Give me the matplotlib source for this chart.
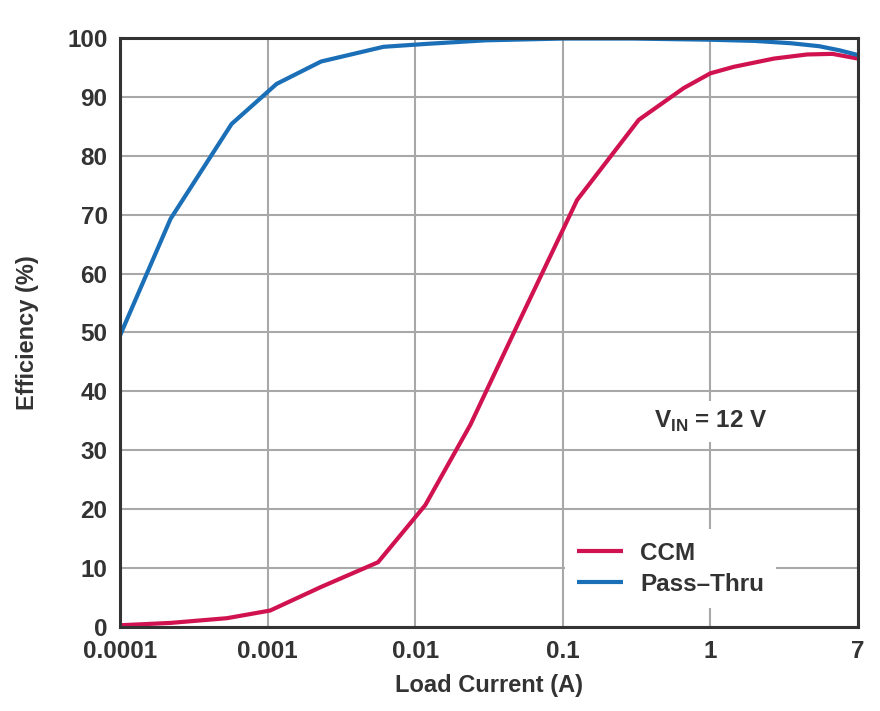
import numpy as np
import matplotlib
matplotlib.use("Agg")
import matplotlib.pyplot as plt
from matplotlib.ticker import FixedLocator, NullLocator

plt.rcParams['font.family'] = ['Liberation Sans', 'DejaVu Sans']
plt.rcParams['font.weight'] = 'bold'
plt.rcParams['axes.labelweight'] = 'bold'
plt.rcParams['mathtext.fontset'] = 'custom'
plt.rcParams['mathtext.rm'] = 'Liberation Sans:bold'

# data (load current in A, efficiency in %)
ccm_x = [0.0001, 0.00022, 0.00053, 0.00104, 0.0023, 0.0056, 0.0117, 0.0236, 0.05,
         0.125, 0.327, 0.66, 1.0, 1.36, 2.31, 3.58, 5.0, 7.0]
ccm_y = [0.3, 0.7, 1.5, 2.8, 6.8, 11.0, 20.7, 34.3, 51.6,
         72.5, 86.1, 91.5, 94.0, 95.1, 96.5, 97.2, 97.3, 96.5]

pass_x = [0.0001, 0.00022, 0.00057, 0.00115, 0.0023, 0.0061, 0.012, 0.03, 0.1,
          0.3, 1.0, 1.8, 2.9, 4.2, 5.5, 7.0]
pass_y = [49.5, 69.3, 85.4, 92.2, 96.0, 98.5, 99.0, 99.6, 99.9,
          99.9, 99.7, 99.5, 99.1, 98.6, 97.9, 97.1]

x_ticks = [0.0001, 0.001, 0.01, 0.1, 1, 7]
x_labels = ['0.0001', '0.001', '0.01', '0.1', '1', '7']
y_ticks = list(range(0, 101, 10))

ccm_color = '#D01350'
pass_color = '#1B6FB6'
text_color = '#333333'


# the last decade of the axis runs from 1 to 7 instead of 1 to 10
def fwd(x):
    x = np.clip(np.asarray(x, dtype=float), 1e-12, None)
    lx = np.log10(x)
    return np.where(lx <= 0, lx, lx / np.log10(7))


def inv(y):
    y = np.asarray(y, dtype=float)
    return np.where(y <= 0, 10.0 ** y, 7.0 ** y)


fig = plt.figure(figsize=(8.8, 7.11), dpi=100)
ax = fig.add_axes([0.1364, 0.1181, 0.8386, 0.8285])
ax.set_xscale('function', functions=(fwd, inv))

ax.plot(ccm_x, ccm_y, color=ccm_color, lw=3, label='CCM', solid_capstyle='butt')
ax.plot(pass_x, pass_y, color=pass_color, lw=3, label='Pass\u2013Thru', solid_capstyle='butt')

ax.set_xlim(0.0001, 7)
ax.set_ylim(0, 100)
ax.xaxis.set_major_locator(FixedLocator(x_ticks))
ax.xaxis.set_minor_locator(NullLocator())
ax.set_xticklabels(x_labels)
ax.set_yticks(y_ticks)

ax.grid(True, color='#A8A8A8', lw=1.5)
ax.set_axisbelow(True)
for s in ax.spines.values():
    s.set_color('#333333')
    s.set_linewidth(2.2)

ax.tick_params(length=0, labelsize=17.5, colors=text_color, pad=9)
ax.set_xlabel('Load Current (A)', fontsize=17, color=text_color, labelpad=8)
ax.set_ylabel('Efficiency (%)', fontsize=17, color=text_color, labelpad=20)

ax.text(0.80, 0.349, r'V$_{\mathrm{IN}}$ = 12 V', transform=ax.transAxes,
        fontsize=17.5, color=text_color, ha='center', va='center',
        bbox=dict(facecolor='white', edgecolor='none', pad=6))

leg = ax.legend(loc='lower left', bbox_to_anchor=(0.586, 0.012), fontsize=17.5,
                frameon=True, fancybox=False, handlelength=1.9, handletextpad=0.7,
                labelspacing=0.33, borderpad=0.5)
leg.get_frame().set_facecolor('white')
leg.get_frame().set_edgecolor('none')
leg.get_frame().set_alpha(1)
for t in leg.get_texts():
    t.set_color(text_color)

fig.savefig('out.png', dpi=100)
